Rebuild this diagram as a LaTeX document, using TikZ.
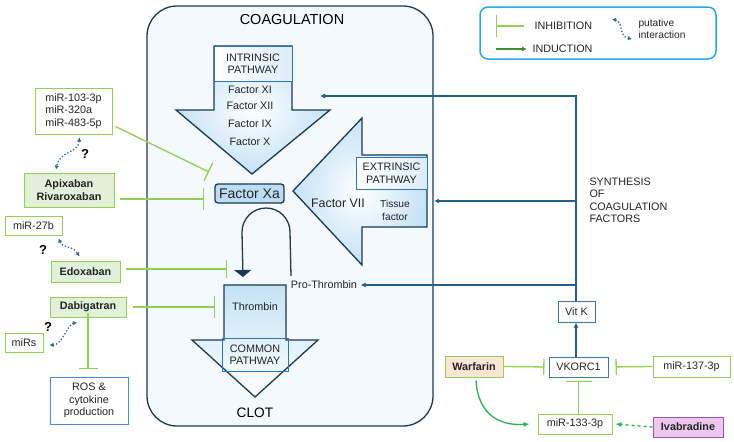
\documentclass[tikz,border=0pt]{standalone}
\usepackage{fontspec}
\setmainfont{Liberation Sans}
\usepackage{tikz}
\usetikzlibrary{arrows.meta,calc}
\definecolor{coagline}{RGB}{27,58,82}
\definecolor{coagfill}{RGB}{244,249,253}
\definecolor{arrowblue}{RGB}{196,226,246}
\definecolor{xafill}{RGB}{188,221,243}
\definecolor{boxblue}{RGB}{46,117,182}
\definecolor{synblue}{RGB}{34,96,140}
\definecolor{steel}{RGB}{60,120,160}
\definecolor{rosblue}{RGB}{70,140,210}
\definecolor{inhgreen}{RGB}{146,208,80}
\definecolor{drugfill}{RGB}{226,240,217}
\definecolor{warffill}{RGB}{251,229,214}
\definecolor{ivafill}{RGB}{236,200,240}
\definecolor{ivaline}{RGB}{165,80,175}
\definecolor{indgreen}{RGB}{40,180,75}
\definecolor{darkgreen}{RGB}{60,140,50}
\definecolor{legcyan}{RGB}{40,170,230}
\definecolor{dotblue}{RGB}{40,105,150}
\definecolor{textgray}{RGB}{35,35,35}
\newcommand{\diagfont}{\fontsize{10.8}{12.5}\selectfont}
\tikzset{
  arrowshape/.style={draw=coagline, line width=1.3pt, line join=miter},
  pathbox/.style={draw=boxblue, line width=1pt, inner sep=0pt, align=center},
  box/.style={draw, line width=1pt, inner sep=0pt, align=center},
  mirbox/.style={box, draw=inhgreen},
  drugbox/.style={box, draw=inhgreen, fill=drugfill, font=\diagfont\bfseries},
  inhib/.style={draw=inhgreen, line width=1.3pt, -{Bar[width=#1]}},
  inhib/.default=18pt,
  synth/.style={synblue, line width=1.2pt, -{Latex[length=5pt,width=5pt]}},
  putative/.style={dotblue, line width=1.3pt, dotted,
    {Latex[length=4pt,width=4.5pt]}-{Latex[length=4pt,width=4.5pt]}},
  qmark/.style={font=\fontsize{13}{14}\selectfont\bfseries, text=black}
}
\begin{document}
\begin{tikzpicture}[x=1pt,y=-1pt,font=\diagfont,text=textgray]
\useasboundingbox (0,0) rectangle (734,442);
\draw[coagline, fill=coagfill, line width=1.3pt, rounded corners=30pt] (147,6) rectangle (433,426);
\node[font=\fontsize{14.5}{16}\selectfont, text=black] (coag) at (292,20) {COAGULATION};

\draw[arrowshape, inner color=white, outer color=arrowblue] (214,46) -- (292,46) -- (292,110) -- (330,110)
  -- (252,174) -- (176,110) -- (214,110) -- cycle;
\node[pathbox, left color=white, right color=arrowblue!60, minimum width=78pt, minimum height=35pt] (intr) at (253,63.5) {INTRINSIC\\PATHWAY};
\node (f11) at (250,90) {Factor XI};
\node (f12) at (250,106) {Factor XII};
\node (f9) at (250,124) {Factor IX};
\node (f10) at (250,142) {Factor X};

\draw[arrowshape, inner color=white, outer color=arrowblue] (427,155) -- (362,155) -- (362,118) -- (293,191)
  -- (362,265) -- (362,227) -- (427,227) -- cycle;
\node[pathbox, left color=white, right color=arrowblue!60, minimum width=71pt, minimum height=32pt] (extr) at (391.5,173) {EXTRINSIC\\PATHWAY};
\node[font=\fontsize{12.4}{14}\selectfont] (f7) at (338,203) {Factor VII};
\node[font=\fontsize{10.2}{13}\selectfont, align=center] (tf) at (395,210) {Tissue\\factor};

\node[draw=coagline, line width=1.3pt, rounded corners=3pt, fill=xafill, minimum width=69pt, minimum height=19pt, inner sep=0pt,
  font=\fontsize{14}{16}\selectfont] (xa) at (249.5,193.5) {Factor Xa};

\draw[arrowshape, top color=arrowblue, bottom color=white] (224,285) -- (286,285) -- (286,340) -- (318,340)
  -- (255,397) -- (192,340) -- (224,340) -- cycle;
\node[pathbox, minimum width=66pt, minimum height=33pt] (comm) at (255,354.5) {COMMON\\PATHWAY};
\node (thr) at (255,307) {Thrombin};
\node[font=\fontsize{13.7}{15}\selectfont, text=black] (clot) at (255,413) {CLOT};
\node (prothr) at (324,285) {Pro-Thrombin};

\coordinate (loopA) at (291,276);
\coordinate (loopB) at (243,277);
\draw[coagline, line width=1.3pt, -{Triangle[width=17pt,length=7pt]}] (loopA) -- (290,232) arc (0:-180:24) -- (loopB);

\node[box, draw=steel, minimum width=37pt, minimum height=21pt] (vitk) at (576.5,311.5) {Vit K};
\node[box, draw=steel, minimum width=59pt, minimum height=20pt] (vkorc) at (578.5,367) {VKORC1};
\node[box, draw=inhgreen, fill=warffill, font=\diagfont\bfseries, minimum width=58pt, minimum height=21pt] (warf) at (474,366.5) {Warfarin};
\node[mirbox, minimum width=77pt, minimum height=21pt] (mir137) at (691.5,366.5) {miR-137-3p};
\node[mirbox, minimum width=74pt, minimum height=20pt] (mir133) at (575,424) {miR-133-3p};
\node[box, draw=ivaline, fill=ivafill, font=\diagfont\bfseries, minimum width=70pt, minimum height=20pt] (iva) at (688,427) {Ivabradine};

\coordinate (synT) at (576,96);
\coordinate (synM) at (576,201);
\coordinate (synL) at (576,285);
\coordinate (tointr) at (320,96);
\coordinate (toextr) at (434,201);
\draw[synth] (vitk.north -| synT) -- (synT) -- (tointr);
\draw[synth] (synM) -- (toextr);
\draw[synth] (synL) -- (prothr.east);
\draw[synth] (vkorc.north -| synT) -- (vitk.south -| synT);
\node[align=left, anchor=west] (syn) at (586,200.5) {SYNTHESIS\\OF\\COAGULATION\\FACTORS};

\draw[inhib=16pt, shorten >=4pt] (warf.east) -- (vkorc.west);
\draw[inhib=16pt, shorten >=7pt] (mir137.west) -- (vkorc.east);
\draw[inhib=26pt, shorten >=3pt] (mir133.north -| vkorc.south) -- (vkorc.south);
\draw[indgreen, line width=1.3pt, -{Latex[length=6pt,width=5pt]}] ([shift={(2,3)}]warf.south) .. controls (478,415) and (500,426) .. ([xshift=-8pt]mir133.west);
\draw[indgreen, line width=1.3pt, dashed, -{Latex[length=6pt,width=5pt]}] (iva.west) -- ([xshift=3pt]mir133.east);

\node[mirbox, align=left, minimum width=77pt, minimum height=46pt] (mirA) at (73.5,111) {miR-103-3p\\miR-320a\\miR-483-5p};
\node[drugbox, minimum width=90pt, minimum height=34pt] (apix) at (69,190) {Apixaban\\Rivaroxaban};
\node[mirbox, minimum width=57pt, minimum height=19pt] (mir27) at (33.5,225.5) {miR-27b};
\node[drugbox, minimum width=69pt, minimum height=21pt] (edox) at (85.5,271.5) {Edoxaban};
\node[drugbox, minimum width=76pt, minimum height=20pt] (dabi) at (88,307) {Dabigatran};
\node[mirbox, minimum width=38pt, minimum height=19pt] (mirs) at (24,342.5) {miRs};
\node[box, draw=rosblue, minimum width=78pt, minimum height=47pt] (ros) at (89,400.5) {ROS \&\\cytokine\\production};

\coordinate (xaA) at (209,172);
\coordinate (xaB) at (204,199);
\coordinate (thrA) at (227,269);
\coordinate (thrB) at (215,307);
\coordinate (rosA) at (88,369);
\draw[inhib=20pt] ([shift={(3,-8)}]mirA.south east) -- (xaA);
\draw[inhib=22pt] ([shift={(5,9)}]apix.east) -- (xaB);
\draw[inhib=18pt] ([shift={(5,-2.5)}]edox.east) -- (thrA);
\draw[inhib=22pt] ([xshift=6pt]dabi.east) -- (thrB);
\draw[inhib=19pt] ([yshift=5pt]dabi.south) -- (rosA);

\draw[putative] ([shift={(6,3)}]mirA.south) .. controls (78,154) and (60,150) .. ([shift={(-13,-3)}]apix.north);
\draw[putative] ([shift={(-4,3)}]mir27.south east) .. controls (64,250) and (72,244) .. ([shift={(29,-4)}]edox.north west);
\draw[putative] ([shift={(-11,5)}]dabi.south) .. controls (68,324) and (62,345) .. ([shift={(6,2.5)}]mirs.east);
\node[qmark] (q1) at (85,154) {?};
\node[qmark] (q2) at (43,250) {?};
\node[qmark] (q3) at (48,327) {?};

\draw[legcyan, line width=1.5pt, rounded corners=8pt] (480,7) rectangle (716,59);
\coordinate (legI1) at (524,26);
\coordinate (legI2) at (496,26);
\coordinate (legD1) at (496,49);
\coordinate (legD2) at (527,49);
\coordinate (legP1) at (612,19);
\coordinate (legP2) at (632,39);
\draw[inhib=22pt] (legI1) -- (legI2);
\draw[darkgreen, line width=1.3pt, -{Latex[length=5pt,width=5pt]}] (legD1) -- (legD2);
\draw[putative] (legP1) .. controls (624,22) and (618,36) .. (legP2);
\node[anchor=west] (legI) at (531,26) {INHIBITION};
\node[anchor=west] (legD) at (529,49) {INDUCTION};
\node[anchor=west, align=left, font=\fontsize{10.2}{12}\selectfont] (legP) at (635,29) {putative\\interaction};
\end{tikzpicture}
\end{document}
